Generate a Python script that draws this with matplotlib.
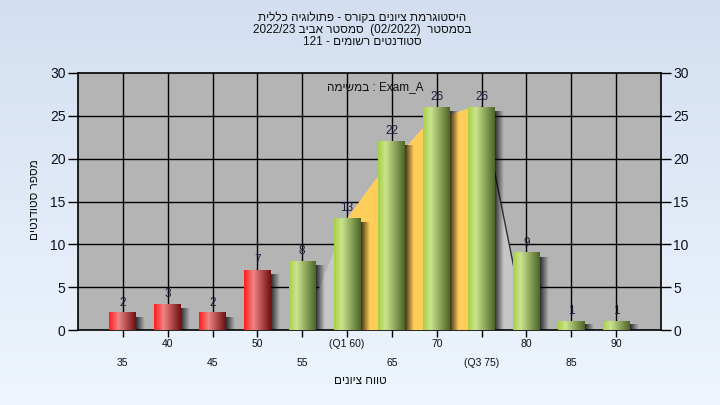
import re

import numpy as np
import matplotlib
matplotlib.use("Agg")
import matplotlib.pyplot as plt
from matplotlib.colors import LinearSegmentedColormap, to_rgb

plt.rcParams["font.family"] = ["Liberation Sans", "DejaVu Sans"]

# data
GRADES = [35, 40, 45, 50, 55, 60, 65, 70, 75, 80, 85, 90]
COUNTS = [2, 3, 2, 7, 8, 13, 22, 26, 26, 9, 1, 1]
FAILED = [True, True, True, True, False, False, False, False, False, False, False, False]
TICK_LABELS = ["35", "40", "45", "50", "55", "(Q1 60)", "65", "70", "(Q3 75)", "80", "85", "90"]

# distribution shape behind bars (grade, count)
CURVE_GRADES = [60, 63.2, 66.7, 68.4, 71.6, 73.4, 75]
CURVE_VALUES = [13, 17.6, 21.5, 23.5, 25.2, 25.8, 26]
SPREAD_LOW = 55
SPREAD_HIGH = 80

TITLE_LINES = ["היסטוגרמת ציונים בקורס - פתולוגיה כללית",
               "בסמסטר  (02/2022)  סמסטר אביב 2022/23",
               "סטודנטים רשומים - 121"]
SUBTITLE = "במשימה : Exam_A"
XLABEL = "טווח ציונים"
YLABEL = "מספר סטודנטים"

HEB_RUN = re.compile(r"[\u0590-\u05FF]+(?:[ \-]+[\u0590-\u05FF]+)*")
LTR_RUN = re.compile(r"[0-9A-Za-z_/.]+")


def visual(s):
    # matplotlib has no bidi: flip the Hebrew runs so they read right-to-left
    return HEB_RUN.sub(lambda m: m.group(0)[::-1], s)


def visual_rtl(s):
    # right-to-left line: reverse everything, then put number runs back in order
    r = LTR_RUN.sub(lambda m: m.group(0)[::-1], s[::-1])
    return r.translate(str.maketrans("()", ")("))


def gidx(g):
    return (g - GRADES[0]) / 5.0


fig = plt.figure(figsize=(7.2, 4.05), dpi=100)

# figure background gradient
bg = fig.add_axes([0, 0, 1, 1], zorder=-10)
top_c = np.array(to_rgb("#d3dff1"))
bot_c = np.array(to_rgb("#eef5fd"))
t = np.linspace(0, 1, 200)[:, None, None]
bg.imshow(top_c * (1 - t) + bot_c * t, aspect="auto", extent=(0, 1, 0, 1))
bg.axis("off")

ax = fig.add_axes([78 / 720, 75 / 405, 583 / 720, 257 / 405])
ax.set_facecolor("#b4b4b4")

# grid
for i in range(len(GRADES)):
    ax.axvline(i, color="black", lw=1.0, zorder=1)
for v in range(5, 30, 5):
    ax.axhline(v, color="black", lw=1.0, zorder=1)

# spread polygon + quartile area
px = [gidx(SPREAD_LOW)] + [gidx(g) for g in CURVE_GRADES] + [gidx(SPREAD_HIGH)]
py = [0] + CURVE_VALUES + [0]
ax.fill(px, py, color="#c6c6c6", lw=0, zorder=2)
qx = [gidx(CURVE_GRADES[0])] + [gidx(g) for g in CURVE_GRADES] + [gidx(CURVE_GRADES[-1])]
qy = [0] + CURVE_VALUES + [0]
ax.fill(qx, qy, color="#ffcd5a", lw=0, zorder=3)
ax.plot([gidx(CURVE_GRADES[-1]), gidx(SPREAD_HIGH)], [CURVE_VALUES[-1], 0],
        color="#303030", lw=1.0, zorder=3.5)

red_cmap = LinearSegmentedColormap.from_list(
    "red", [(0, "#ff1c1c"), (0.35, "#f08484"), (1, "#701010")])
green_cmap = LinearSegmentedColormap.from_list(
    "green", [(0, "#a6d044"), (0.28, "#cce48e"), (1, "#4c6628")])
grad = np.linspace(0, 1, 64)[None, :]

w = 0.6
shadow = np.zeros((1, 32, 4))
shadow[..., 3] = np.linspace(0.75, 0.0, 32)
for i, (c, failed) in enumerate(zip(COUNTS, FAILED)):
    x0, x1 = i - w / 2, i + w / 2
    # soft shadow to the right
    ax.imshow(shadow, extent=(x1, x1 + 0.18, -0.2, max(c - 0.5, 0.7)), aspect="auto",
              zorder=4, interpolation="bilinear")
    cmap = red_cmap if failed else green_cmap
    ax.imshow(grad, cmap=cmap, extent=(x0, x1, 0, c), aspect="auto", zorder=5,
              interpolation="bilinear")
    ax.annotate(str(c), (i, c), xytext=(0, 3), textcoords="offset points",
                ha="center", va="bottom", fontsize=8.5, color="#1c1c40", zorder=6)

ax.set_xlim(-1, 12)
ax.set_ylim(0, 30)

# axes / ticks
ax.set_xticks(range(len(GRADES)))
ax.set_xticklabels([])
for i, lab in enumerate(TICK_LABELS):
    yoff = -14 if i % 2 else -33
    ax.annotate(lab, (i, 0), xytext=(0, yoff), textcoords="offset pixels",
                ha="center", va="center", fontsize=7.5, color="#101010",
                annotation_clip=False)
ax.tick_params(axis="x", length=5, width=1, direction="out")
ax.set_yticks(range(0, 31, 5))
ax.tick_params(axis="y", length=7, width=1, labelsize=10, labelcolor="#101020",
               left=True, right=True, labelleft=True, labelright=True, pad=2)
for side in ["left", "right", "bottom", "top"]:
    ax.spines[side].set_linewidth(1.2)
    ax.spines[side].set_color("black")

ax.text(0.51, 0.945, visual(SUBTITLE), transform=ax.transAxes, ha="center",
        va="center", fontsize=8.5, color="#101010", zorder=7)

fig.text(362 / 720, 1 - 30 / 405, "\n".join(visual_rtl(s) for s in TITLE_LINES),
         ha="center", va="center", fontsize=8.5, color="#101010", linespacing=1.05)
fig.text(360 / 720, 1 - 381 / 405, visual(XLABEL), ha="center", va="center",
         fontsize=8.5, color="#101010")
fig.text(35 / 720, 1 - 200 / 405, visual(YLABEL), ha="center", va="center",
         fontsize=8.5, color="#101010", rotation=90)

fig.savefig("out.png", dpi=100)
